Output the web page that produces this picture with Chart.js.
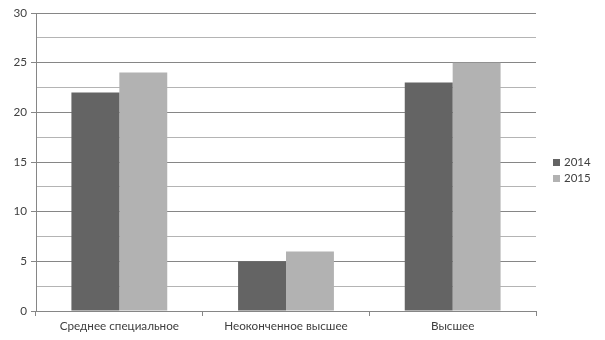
<!DOCTYPE html>
<html>
<head>
<meta charset="utf-8">
<script src="https://cdn.jsdelivr.net/npm/chart.js@4"></script>
<style>
  html, body { margin: 0; padding: 0; background: #fff; }
  #wrap { position: relative; width: 605px; height: 340px; }
  #legend { position: absolute; left: 553px; top: 154px; font: 11.5px Lato, sans-serif; color: #404040; }
  #legend div { height: 16px; line-height: 16px; white-space: nowrap; }
  #legend span { display: inline-block; width: 7px; height: 7px; margin-right: 4px; vertical-align: 0px; }
</style>
</head>
<body>
<div id="wrap">
  <canvas id="chart" width="605" height="340"></canvas>
  <div id="legend"></div>
</div>
<script>
// ====== Data ======
const categories = ['Среднее специальное', 'Неоконченное высшее', 'Высшее'];
const seriesNames = ['2014', '2015'];
const values2014 = [22, 5, 23];
const values2015 = [24, 6, 25];
const seriesColors = ['#646464', '#b2b2b2'];

const majorGrid = '#868686';
const minorGrid = '#b4b4b4';
const textColor = '#404040';

const isMajor = v => Math.abs(v % 5) < 1e-6;

const datasets = [values2014, values2015].map((vals, i) => ({
    label: seriesNames[i],
    data: vals,
    backgroundColor: seriesColors[i],
    borderWidth: 0,
    categoryPercentage: 0.575,
    barPercentage: 1
}));

const chart = new Chart(document.getElementById('chart'), {
    type: 'bar',
    data: { labels: categories, datasets },
    options: {
        responsive: false,
        animation: false,
        layout: { padding: { top: 13, right: 69, left: 0, bottom: 0 } },
        plugins: { legend: { display: false }, tooltip: { enabled: false } },
        scales: {
            x: {
                grid: {
                    offset: true,
                    drawOnChartArea: false,
                    tickLength: 5,
                    color: majorGrid
                },
                border: { color: majorGrid },
                ticks: { color: textColor, font: { family: 'Lato', size: 11.7 }, padding: 3, maxRotation: 0 },
                afterFit: s => { s.height = 29; }
            },
            y: {
                min: 0,
                max: 30,
                ticks: {
                    stepSize: 2.5,
                    color: textColor,
                    font: { family: 'Lato', size: 11.7 },
                    padding: 4,
                    callback: v => isMajor(v) ? v : ''
                },
                grid: {
                    color: ctx => isMajor(ctx.tick.value) ? majorGrid : minorGrid,
                    tickColor: ctx => isMajor(ctx.tick.value) ? majorGrid : 'rgba(0,0,0,0)',
                    tickLength: 5
                },
                border: { color: majorGrid },
                afterFit: s => { s.width = 36; }
            }
        }
    }
});

// ====== Legend ======
document.getElementById('legend').innerHTML = chart.data.datasets.map(d =>
    `<div><span style="background:${d.backgroundColor}"></span>${d.label}</div>`
).join('');
</script>
</body>
</html>
